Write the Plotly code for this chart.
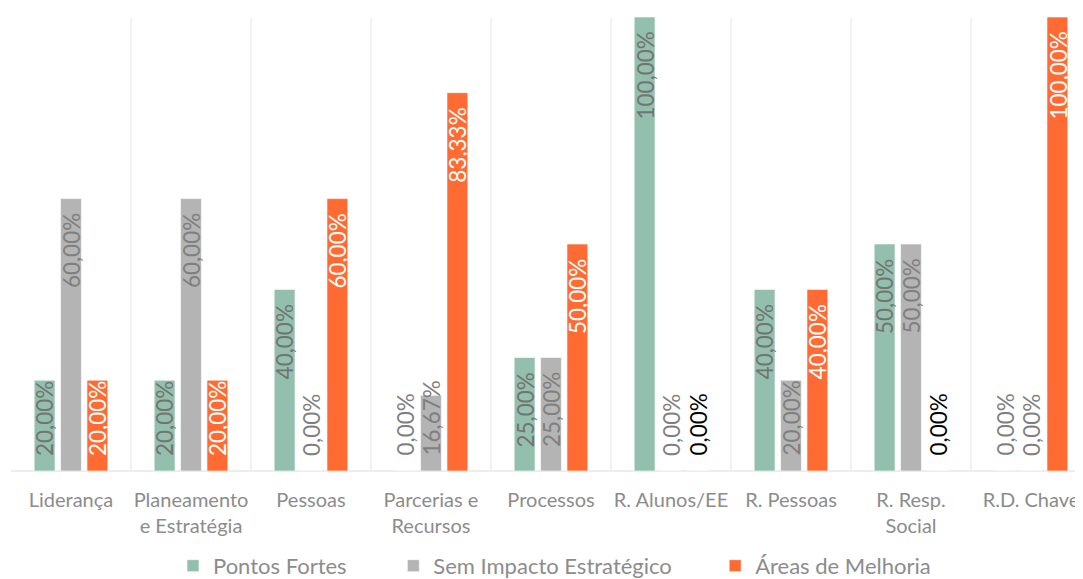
import plotly.graph_objects as go

categories = ["Liderança", "Planeamento<br>e Estratégia", "Pessoas", "Parcerias e<br>Recursos",
              "Processos", "R. Alunos/EE", "R. Pessoas", "R. Resp.<br>Social", "R.D. Chave"]
pontos_fortes = [0.20, 0.20, 0.40, 0.00, 0.25, 1.00, 0.40, 0.50, 0.00]
sem_impacto = [0.60, 0.60, 0.00, 0.1667, 0.25, 0.00, 0.20, 0.50, 0.00]
areas_melhoria = [0.20, 0.20, 0.60, 0.8333, 0.50, 0.00, 0.40, 0.00, 1.00]

series_names = ["Pontos Fortes", "Sem Impacto Estratégico", "Áreas de Melhoria"]
series_values = [pontos_fortes, sem_impacto, areas_melhoria]
colors = ["#93BFAE", "#B4B4B4", "#FF6B33"]
label_colors = ["#737373", "#7F7F7F", "#FFFFFF"]
zero_label_colors = ["#7F7F7F", "#7F7F7F", "#000000"]
offsets = [-26.5, 0, 26.5]
legend_ids = ["legend", "legend2", "legend3"]
legend_x = [0.150, 0.354, 0.652]

FONT = "Lato"

fig = go.Figure()
for name, vals, col, lg in zip(series_names, series_values, colors, legend_ids):
    fig.add_trace(go.Bar(
        x=categories, y=vals, name=name, legend=lg,
        marker=dict(color=col, line=dict(color="rgba(255,255,255,0.6)", width=1)),
        hoverinfo="skip",
    ))

annotations = []
for s, vals in enumerate(series_values):
    for cat, v in zip(categories, vals):
        txt = f"{v*100:.2f}%".replace(".", ",")
        color = zero_label_colors[s] if v == 0 else label_colors[s]
        if v >= 0.24:
            y, ya, ys = v, "top", -13
        else:
            y, ya, ys = 0, "bottom", 13
        annotations.append(dict(
            x=cat, y=y, xref="x", yref="y", text=txt, showarrow=False,
            textangle=-90, xanchor="center", yanchor=ya, yshift=ys,
            xshift=offsets[s], font=dict(family=FONT, size=22.5, color=color),
        ))

layout_legends = {}
for lg, lx in zip(legend_ids, legend_x):
    layout_legends[lg] = dict(
        x=lx, xanchor="left", y=-0.209, yanchor="middle", orientation="h",
        font=dict(family=FONT, size=22, color="#8C8C8C"), bgcolor="rgba(0,0,0,0)",
    )

fig.update_layout(
    width=1083, height=579,
    margin=dict(l=3, r=0, t=9, b=116, autoexpand=False),
    paper_bgcolor="white", plot_bgcolor="white",
    barmode="group", bargap=0.34, bargroupgap=0.21,
    showlegend=True,
    annotations=annotations,
    font=dict(family=FONT, color="#8C8C8C"),
    xaxis=dict(
        range=[-0.5, 8.5], tickson="boundaries", showgrid=True,
        gridcolor="#F2F2F2", gridwidth=1.5, ticks="", automargin=False,
        ticklabelstandoff=15, tickangle=0,
        tickfont=dict(family=FONT, size=20, color="#8C8C8C"),
        showline=False, zeroline=False,
    ),
    yaxis=dict(
        range=[0, 1], showgrid=False, showticklabels=False, zeroline=True,
        zerolinecolor="#EDEDED", zerolinewidth=2, automargin=False,
    ),
    **layout_legends,
)

fig.write_html("out.html")
